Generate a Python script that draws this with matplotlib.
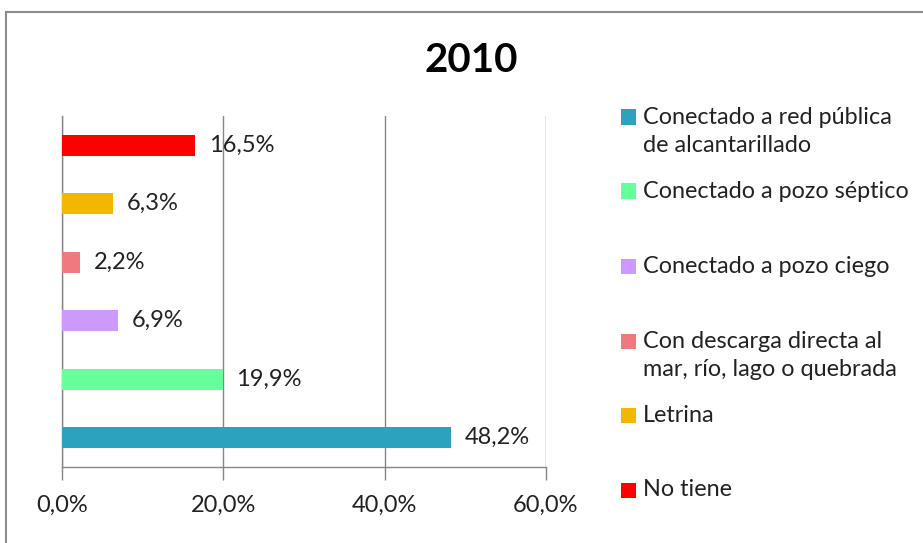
import matplotlib
matplotlib.use("Agg")
import matplotlib.pyplot as plt
from matplotlib.patches import Rectangle

plt.rcParams['font.family'] = ['Lato', 'DejaVu Sans']

categories = ["Conectado a red pública\nde alcantarillado",
              "Conectado a pozo séptico",
              "Conectado a pozo ciego",
              "Con descarga directa al\nmar, río, lago o quebrada",
              "Letrina",
              "No tiene"]
values = [48.2, 19.9, 6.9, 2.2, 6.3, 16.5]
colors = ["#2DA2BF", "#66FF99", "#CC99FF", "#EE7A80", "#F2B700", "#FF0000"]
xticks = [0, 20, 40, 60]
title = "2010"

W, H = 923, 543
fig = plt.figure(figsize=(W / 100, H / 100), dpi=100)

def fx(px):
    return px / W

def fy(py):
    return 1 - py / H

ax = fig.add_axes([fx(62), fy(467), fx(546) - fx(62), fy(116) - fy(467)])
ypos = list(range(len(categories)))
ax.barh(ypos, values, height=0.36, color=colors, zorder=3)
ax.set_xlim(0, 60)
ax.set_ylim(-0.5, len(categories) - 0.5)
ax.set_xticks(xticks)
ax.set_xticklabels([f"{t:.1f}%".replace(".", ",") for t in xticks], fontsize=17, color="#222222")
ax.set_yticks([])
ax.tick_params(axis="x", direction="out", length=9, width=1, color="#868686", pad=11)
ax.grid(axis="x", color="#868686", linewidth=1, zorder=0)
for s in ["top", "right"]:
    ax.spines[s].set_visible(False)
for s in ["left", "bottom"]:
    ax.spines[s].set_color("#868686")
    ax.spines[s].set_linewidth(1)

for y, v in zip(ypos, values):
    ax.annotate(f"{v:.1f}%".replace(".", ","), xy=(v, y), xytext=(10, 0),
                textcoords="offset points", va="center", ha="left",
                fontsize=17, color="#222222", zorder=4)

fig.text(fx(471), fy(61), title, ha="center", va="center", fontsize=29,
         fontweight="bold", color="black")

# legend (manual, Excel-like)
leg_y = [117, 191, 266, 341, 415, 490]
for lab, col, yy in zip(categories, colors, leg_y):
    fig.add_artist(Rectangle((fx(621), fy(yy + 7.5)), fx(15), fy(yy - 7.5) - fy(yy + 7.5),
                             transform=fig.transFigure, color=col, lw=0))
    for k, line in enumerate(lab.split("\n")):
        fig.text(fx(643), fy(yy + 29 * k), line, ha="left", va="center",
                 fontsize=16.8, color="#222222")

# outer frame
fig.add_artist(Rectangle((fx(6), -0.1), 2, fy(12) + 0.1, transform=fig.transFigure,
                         fill=False, edgecolor="#8C8C8C", lw=1.5))

fig.savefig("out.png", dpi=100)
